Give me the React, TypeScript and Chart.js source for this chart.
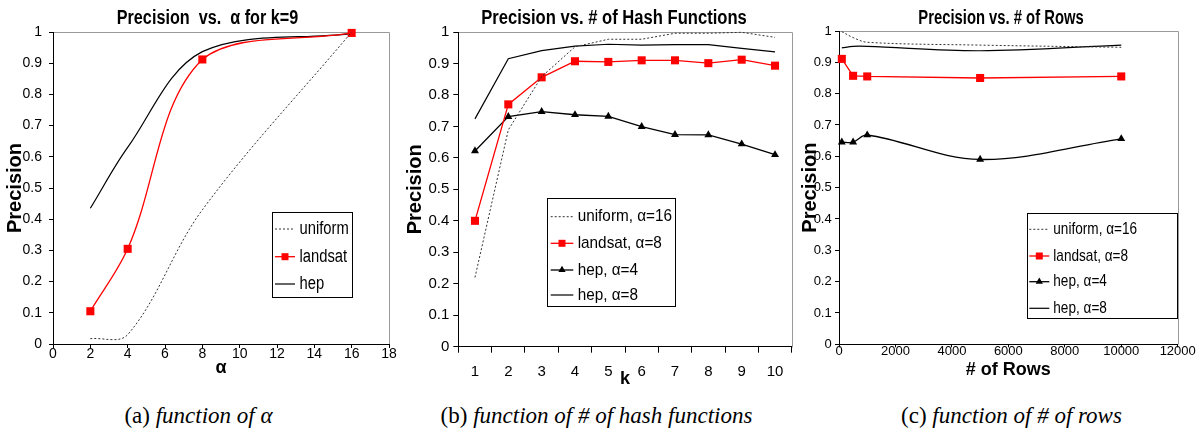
import React, { useEffect, useRef } from 'react';
import { Chart, registerables } from 'chart.js';

Chart.register(...registerables);

const NARROW = "'Liberation Sans Narrow', 'Arial Narrow', 'Liberation Sans', Arial, sans-serif";
const SANS = "'Liberation Sans', Arial, Helvetica, sans-serif";
const SERIF = "'Liberation Serif', 'Times New Roman', Times, serif";

// ---------- shared ----------
const yTickLabels = ['0', '0.1', '0.2', '0.3', '0.4', '0.5', '0.6', '0.7', '0.8', '0.9', '1'];

// ---------- panel (a): precision vs alpha ----------
const alphaValues = [2, 4, 8, 16];
const alphaUniform = [0.017, 0.03, 0.43, 1.0];
const alphaLandsat = [0.105, 0.305, 0.912, 0.997];
const alphaHep = [0.435, 0.63, 0.937, 0.995];
const alphaTickLabels = ['0', '2', '4', '6', '8', '10', '12', '14', '16', '18'];

// ---------- panel (b): precision vs k ----------
const kLabels = ['1', '2', '3', '4', '5', '6', '7', '8', '9', '10'];
const kUniform16 = [0.22, 0.689, 0.858, 0.953, 0.977, 0.977, 0.996, 0.996, 0.999, 0.983];
const kLandsat8 = [0.4, 0.77, 0.856, 0.907, 0.905, 0.91, 0.91, 0.901, 0.912, 0.893];
const kHep4 = [0.622, 0.731, 0.747, 0.737, 0.732, 0.699, 0.674, 0.673, 0.644, 0.61];
const kHep8 = [0.724, 0.915, 0.941, 0.955, 0.961, 0.958, 0.96, 0.96, 0.948, 0.937];

// ---------- panel (c): precision vs # of rows ----------
const rowValues = [100, 500, 1000, 5000, 10000];
const rowUniform16 = [0.998, 0.979, 0.964, 0.955, 0.948];
const rowLandsat8 = [0.911, 0.857, 0.855, 0.85, 0.855];
const rowHep4 = [0.645, 0.645, 0.668, 0.59, 0.656];
const rowHep8 = [0.946, 0.951, 0.951, 0.937, 0.955];
const rowTickLabels = ['0', '2000', '4000', '6000', '8000', '10000', '12000'];

// ---------- styles ----------
const RED = '#ff0000';
const DOT_COLOR = '#333333';

const styleUniform = (tension: number) => ({
  borderColor: DOT_COLOR, borderWidth: 1, borderDash: [2, 2], pointRadius: 0, tension,
});
const styleLandsat = (tension: number) => ({
  borderColor: RED, borderWidth: 1.3, pointStyle: 'rect', pointRadius: 5.7,
  pointBackgroundColor: RED, pointBorderColor: RED, pointBorderWidth: 0, tension,
});
const styleHep4 = (tension: number) => ({
  borderColor: '#000', borderWidth: 1.3, pointStyle: 'triangle', pointRadius: 4.6,
  pointBackgroundColor: '#000', pointBorderColor: '#000', pointBorderWidth: 0, tension,
});
const styleHep8 = (tension: number) => ({
  borderColor: '#000', borderWidth: 1.2, pointRadius: 0, tension,
});

interface LegendSpec {
  x: number; y: number; w: number; h: number;
  lineX0: number; lineX1: number; textX: number; rows: number[];
  fontSize: number; scaleX: number; marker: number;
}

interface PanelSpec {
  left: number; width: number; height: number;
  plotLeft: number; plotTop: number; plotBottom: number; padRight: number;
  title: string; titleX: number; titleBaseline: number; titleSize: number; titleScaleX: number;
  tickFamily: string; tickSize: number;
  yTickLen: number; yTickPad: number; yTitlePad: number;
  xTickLen: number; xTickPad: number; xTitle: string; xTitlePad: number;
  legend: LegendSpec;
}

const makeDeco = (s: PanelSpec) => ({
  id: 'deco',
  beforeDraw(chart: any) {
    const { ctx, chartArea } = chart;
    const l = Math.round(chartArea.left) + 0.5;
    const t = Math.round(chartArea.top) + 0.5;
    const r = Math.round(chartArea.right) + 0.5;
    const b = Math.round(chartArea.bottom) + 0.5;
    ctx.save();
    ctx.strokeStyle = '#9a9a9a';
    ctx.lineWidth = 1;
    ctx.beginPath();
    ctx.moveTo(l, t);
    ctx.lineTo(r, t);
    ctx.lineTo(r, b);
    ctx.stroke();
    ctx.fillStyle = '#000';
    ctx.font = `bold ${s.titleSize}px ${NARROW}`;
    ctx.textAlign = 'center';
    ctx.textBaseline = 'alphabetic';
    ctx.translate(s.titleX, s.titleBaseline);
    ctx.scale(s.titleScaleX, 1);
    ctx.fillText(s.title, 0, 0);
    ctx.restore();
  },
  afterDraw(chart: any) {
    const { ctx } = chart;
    const L = s.legend;
    ctx.save();
    ctx.fillStyle = '#fff';
    ctx.fillRect(L.x, L.y, L.w, L.h);
    ctx.strokeStyle = '#000';
    ctx.lineWidth = 1;
    ctx.strokeRect(Math.round(L.x) + 0.5, Math.round(L.y) + 0.5, Math.round(L.w), Math.round(L.h));
    chart.data.datasets.forEach((ds: any, i: number) => {
      const y = L.rows[i];
      ctx.save();
      ctx.strokeStyle = ds.borderColor;
      ctx.lineWidth = ds.borderWidth;
      ctx.setLineDash(ds.borderDash || []);
      ctx.beginPath();
      ctx.moveTo(L.lineX0, y);
      ctx.lineTo(L.lineX1, y);
      ctx.stroke();
      ctx.restore();
      const cx = (L.lineX0 + L.lineX1) / 2;
      if (ds.pointRadius > 0) {
        ctx.fillStyle = ds.pointBackgroundColor;
        if (ds.pointStyle === 'rect') {
          ctx.fillRect(cx - L.marker / 2, y - L.marker / 2, L.marker, L.marker);
        } else if (ds.pointStyle === 'triangle') {
          const r = L.marker * 0.6;
          ctx.beginPath();
          ctx.moveTo(cx, y - r);
          ctx.lineTo(cx + r * 0.866, y + r * 0.5);
          ctx.lineTo(cx - r * 0.866, y + r * 0.5);
          ctx.closePath();
          ctx.fill();
        }
      }
      ctx.save();
      ctx.fillStyle = '#000';
      ctx.font = `${L.fontSize}px ${NARROW}`;
      ctx.textAlign = 'left';
      ctx.textBaseline = 'middle';
      ctx.translate(L.textX, y);
      ctx.scale(L.scaleX, 1);
      ctx.fillText(ds.label, 0, 0);
      ctx.restore();
    });
    ctx.restore();
  },
});

const yScale = (s: PanelSpec) => ({
  type: 'linear',
  min: 0,
  max: 1,
  ticks: {
    stepSize: 0.1,
    autoSkip: false,
    callback: (_v: any, i: number) => yTickLabels[i],
    color: '#000',
    font: { family: s.tickFamily, size: s.tickSize, lineHeight: 1 },
    padding: s.yTickPad,
  },
  grid: { drawOnChartArea: false, drawTicks: true, tickLength: s.yTickLen, color: '#000', lineWidth: 1 },
  border: { display: true, color: '#000', width: 1 },
  title: {
    display: true, text: 'Precision', color: '#000',
    font: { family: SANS, size: 20, weight: 'bold', lineHeight: 1 },
    padding: { top: s.yTitlePad, bottom: 0 },
  },
  afterFit: (sc: any) => { sc.width = s.plotLeft; },
});

const xCommon = (s: PanelSpec) => ({
  ticks: {
    autoSkip: false, maxRotation: 0, color: '#000',
    font: { family: s.tickFamily, size: s.tickSize, lineHeight: 1 },
    padding: s.xTickPad,
  },
  grid: { drawOnChartArea: false, drawTicks: true, tickLength: s.xTickLen, color: '#000', lineWidth: 1 },
  border: { display: true, color: '#000', width: 1 },
  title: {
    display: true, text: s.xTitle, color: '#000',
    font: { family: NARROW, size: 18, weight: 'bold', lineHeight: 1.2 },
    padding: { top: 0, bottom: s.xTitlePad },
  },
  afterFit: (sc: any) => { sc.height = s.height - s.plotBottom; },
});

const baseOptions = (s: PanelSpec, xScale: any) => ({
  responsive: false,
  animation: false,
  events: [],
  layout: { padding: { top: s.plotTop, right: s.padRight, left: 0, bottom: 0 } },
  plugins: { legend: { display: false }, title: { display: false }, tooltip: { enabled: false } },
  scales: { x: xScale, y: yScale(s) },
});

// ---------- panel specs ----------
const specA: PanelSpec = {
  left: 0, width: 400, height: 385,
  plotLeft: 53, plotTop: 32, plotBottom: 344, padRight: 11,
  title: 'Precision  vs.  α for k=9', titleX: 207.5, titleBaseline: 23.5, titleSize: 20, titleScaleX: 0.81,
  tickFamily: NARROW, tickSize: 14,
  yTickLen: 4, yTickPad: 7, yTitlePad: 5,
  xTickLen: 4, xTickPad: -1, xTitle: 'α', xTitlePad: 6.5,
  legend: {
    x: 272, y: 212, w: 80, h: 85, lineX0: 275, lineX1: 295, textX: 299.5,
    rows: [229, 256.7, 284], fontSize: 18, scaleX: 0.82, marker: 7,
  },
};

const specB: PanelSpec = {
  left: 400, width: 400, height: 392,
  plotLeft: 58.3, plotTop: 32, plotBottom: 346.7, padRight: 8.3,
  title: 'Precision vs. # of Hash Functions', titleX: 214, titleBaseline: 23.5, titleSize: 20, titleScaleX: 0.83,
  tickFamily: NARROW, tickSize: 15,
  yTickLen: 5, yTickPad: 4, yTitlePad: 5,
  xTickLen: 6, xTickPad: 12, xTitle: 'k', xTitlePad: 2.2,
  legend: {
    x: 147.3, y: 198, w: 127.7, h: 108, lineX0: 150.7, lineX1: 173.3, textX: 177.7,
    rows: [216.7, 243.3, 270, 295], fontSize: 17, scaleX: 0.9, marker: 7,
  },
};

const specC: PanelSpec = {
  left: 800, width: 397, height: 385,
  plotLeft: 39, plotTop: 31, plotBottom: 344.3, padRight: 19.3,
  title: 'Precision vs. # of Rows', titleX: 201, titleBaseline: 24, titleSize: 20, titleScaleX: 0.74,
  tickFamily: NARROW, tickSize: 13,
  yTickLen: 4, yTickPad: 3.3, yTitlePad: 0,
  xTickLen: 3, xTickPad: -2.5, xTitle: '# of Rows', xTitlePad: 4.2,
  legend: {
    x: 226.7, y: 213.3, w: 150, h: 105, lineX0: 229.3, lineX1: 249.3, textX: 253.3,
    rows: [229.3, 256, 281.7, 308.3], fontSize: 17, scaleX: 0.8, marker: 7,
  },
};

const xy = (xs: number[], ys: number[]) => xs.map((x, i) => ({ x, y: ys[i] }));

const buildA = (s: PanelSpec) => ({
  type: 'line',
  data: {
    datasets: [
      { label: 'uniform', data: xy(alphaValues, alphaUniform), ...styleUniform(0.35), clip: false },
      { label: 'landsat', data: xy(alphaValues, alphaLandsat), ...styleLandsat(0.35), clip: false },
      { label: 'hep', data: xy(alphaValues, alphaHep), ...styleHep8(0.35), clip: false },
    ],
  },
  options: baseOptions(s, {
    type: 'linear', min: 0, max: 18,
    ...xCommon(s),
    ticks: { ...xCommon(s).ticks, stepSize: 2, callback: (_v: any, i: number) => alphaTickLabels[i] },
  }),
  plugins: [makeDeco(s)],
});

const buildB = (s: PanelSpec) => ({
  type: 'line',
  data: {
    labels: kLabels,
    datasets: [
      { label: 'uniform, α=16', data: kUniform16, ...styleUniform(0), clip: false },
      { label: 'landsat, α=8', data: kLandsat8, ...styleLandsat(0), clip: false },
      { label: 'hep, α=4', data: kHep4, ...styleHep4(0), clip: false },
      { label: 'hep, α=8', data: kHep8, ...styleHep8(0), clip: false },
    ],
  },
  options: baseOptions(s, {
    type: 'category', offset: true,
    ...xCommon(s),
    grid: { ...xCommon(s).grid, offset: true },
  }),
  plugins: [makeDeco(s)],
});

const buildC = (s: PanelSpec) => ({
  type: 'line',
  data: {
    datasets: [
      { label: 'uniform, α=16', data: xy(rowValues, rowUniform16), ...styleUniform(0.35), clip: false },
      { label: 'landsat, α=8', data: xy(rowValues, rowLandsat8), ...styleLandsat(0), clip: false },
      { label: 'hep, α=4', data: xy(rowValues, rowHep4), ...styleHep4(0.35), clip: false },
      { label: 'hep, α=8', data: xy(rowValues, rowHep8), ...styleHep8(0.35), clip: false },
    ],
  },
  options: baseOptions(s, {
    type: 'linear', min: 0, max: 12000,
    ...xCommon(s),
    ticks: { ...xCommon(s).ticks, stepSize: 2000, callback: (_v: any, i: number) => rowTickLabels[i] },
  }),
  plugins: [makeDeco(s)],
});

function Panel({ spec, build }: { spec: PanelSpec; build: (s: PanelSpec) => any }) {
  const ref = useRef<HTMLCanvasElement>(null);
  useEffect(() => {
    const chart = new Chart(ref.current as HTMLCanvasElement, build(spec));
    return () => chart.destroy();
  }, []);
  return (
    <canvas
      ref={ref}
      width={spec.width}
      height={spec.height}
      style={{ position: 'absolute', left: spec.left, top: 0, width: spec.width, height: spec.height }}
    />
  );
}

const captionStyle = (center: number): React.CSSProperties => ({
  position: 'absolute', left: center - 250, width: 500, top: 403, textAlign: 'center',
  fontFamily: SERIF, fontSize: 23, lineHeight: '26px', color: '#000', whiteSpace: 'nowrap',
});

export default function App() {
  return (
    <div style={{ position: 'absolute', left: 0, top: 0, width: 1197, height: 432, background: '#fff', overflow: 'hidden' }}>
      <Panel spec={specA} build={buildA} />
      <Panel spec={specB} build={buildB} />
      <Panel spec={specC} build={buildC} />
      <div style={captionStyle(198.5)}>(a) <i>function of α</i></div>
      <div style={captionStyle(596.5)}>(b) <i>function of # of hash functions</i></div>
      <div style={captionStyle(1011.5)}>(c) <i>function of # of rows</i></div>
    </div>
  );
}
